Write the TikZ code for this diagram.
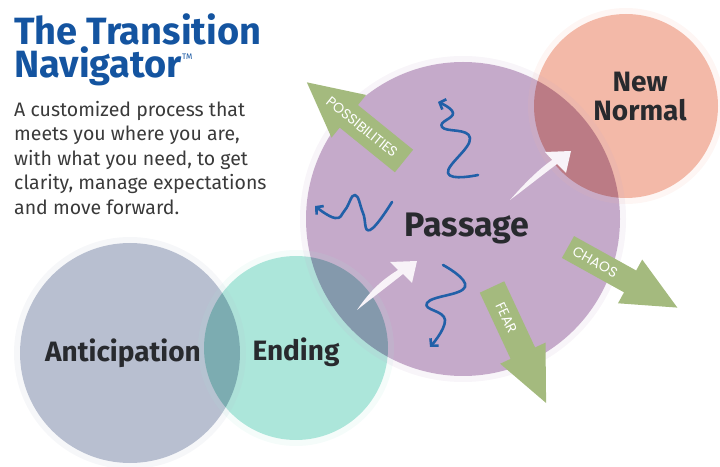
\documentclass[tikz,border=0pt]{standalone}
\usepackage{fontspec}
\setmainfont{Fira Sans}
\newfontfamily\tagfont{Poppins}
\usetikzlibrary{arrows.meta}
\definecolor{tnblue}{RGB}{20,84,160}
\definecolor{tntext}{RGB}{58,58,58}
\definecolor{tnlabel}{RGB}{40,42,46}
\definecolor{tnantic}{RGB}{184,191,208}
\definecolor{tnending}{RGB}{172,230,218}
\definecolor{tnpassage}{RGB}{197,170,202}
\definecolor{tnnormal}{RGB}{243,185,168}
\definecolor{tnsage}{RGB}{164,186,126}
\definecolor{tnsquiggle}{RGB}{33,96,168}
\definecolor{tnwhite}{RGB}{248,243,248}

\begin{document}
\begin{tikzpicture}[x=1pt, y=1pt,
    stage/.style={circle, inner sep=0pt, blend mode=multiply},
    rim/.style={line width=6pt, opacity=0.12},
    stagename/.style={font=\fontsize{28}{28}\selectfont\bfseries, text=tnlabel, align=center, inner sep=0pt},
    squiggle/.style={tnsquiggle, line width=2.6pt, line cap=round, line join=round, -{Straight Barb[length=5pt, width=11pt]}},
    tagtext/.style={font=\tagfont\fontsize{14}{14}\selectfont, text=white, inner sep=0pt},
    sweep/.style={fill=tnwhite}
]
\useasboundingbox (0,0) rectangle (720,466);

% --- the four stages ---
\node[stage, fill=tnantic, minimum size=220pt] (antic) at (130,113) {};
\node[stage, fill=tnending, minimum size=184pt] (ending) at (296,118) {};
\node[stage, fill=tnpassage, minimum size=314pt] (passage) at (463,247) {};
\node[stage, fill=tnnormal, minimum size=184pt] (normal) at (626,360) {};
% soft brushed rims
\draw[rim, tnantic] (antic.center) circle (113);
\draw[rim, tnending] (ending.center) circle (95);
\draw[rim, tnpassage] (passage.center) circle (160);
\draw[rim, tnnormal] (normal.center) circle (95);

% --- heading and blurb ---
\node[anchor=base west, font=\fontsize{38}{38}\selectfont\bfseries, text=tnblue, inner sep=0pt] (title1) at (14,421) {The Transition};
\node[anchor=base west, font=\fontsize{38}{38}\selectfont\bfseries, text=tnblue, inner sep=0pt] (title2) at (14,388) {Navigator\raisebox{18pt}{\fontsize{8}{8}\selectfont\mdseries TM}};
\node[anchor=north west, align=left, font=\fontsize{19.5}{24.5}\selectfont, text=tntext, inner sep=0pt] (blurb) at (14,365)
    {A customized process that\\meets you where you are,\\with what you need, to get\\clarity, manage expectations\\and move forward.};

% --- green arrows out of the passage ---
\foreach \name/\x/\y/\ang/\len/\w/\hw/\hl/\txt/\tpos/\trot in {
    poss/404/305/141/125/29/55/54/POSSIBILITIES/54/180,
    chaos/568/219/-29/125/25/50/54/CHAOS/31/0,
    fear/492/179/-65/128/27/50/55/FEAR/34/0} {
  \begin{scope}[shift={(\x,\y)}, rotate=\ang]
    \fill[tnsage] (0,{-\w/2}) -- ({\len-\hl},{-\w/2}) -- ({\len-\hl},{-\hw/2}) -- (\len,0)
        -- ({\len-\hl},{\hw/2}) -- ({\len-\hl},{\w/2}) -- (0,{\w/2}) -- cycle;
    \node[tagtext, rotate={\ang+\trot}] (\name) at (\tpos,0) {\txt};
  \end{scope}
}

% --- white sweeps between stages ---
\fill[sweep] (357,156) .. controls (372,178) and (385,188) .. (398,196) -- (390,204) -- (417,205)
    -- (412,183) -- (403,192) .. controls (388,180) and (372,168) .. cycle;
\fill[sweep] (510,266) .. controls (525,283) and (538,296) .. (552,306) -- (545,314) -- (571,315)
    -- (566,293) -- (557,302) .. controls (541,290) and (526,278) .. cycle;

% --- blue squiggles ---
\draw[squiggle] plot[smooth, tension=0.8] coordinates {(478,291) (448,293) (470,328) (442,339) (453,353) (438,364)};
\draw[squiggle] plot[smooth, tension=0.8] coordinates {(392,264) (370,236) (363,253) (355,271) (345,256) (335,248) (315,260)};
\draw[squiggle] plot[smooth, tension=0.8] coordinates {(443,201) (465,179) (427,163) (445,146) (430,119)};

% --- stage names ---
\node[stagename, anchor=base] (anticlbl) at (123,104) {Anticipation};
\node[stagename, anchor=base] (endlbl) at (296,105) {Ending};
\node[stagename, anchor=base, font=\fontsize{34}{34}\selectfont\bfseries] (passlbl) at (467,229) {Passage};
\node[stagename, font=\fontsize{28}{29}\selectfont\bfseries] (normlbl) at (640,369) {New\\Normal};

\end{tikzpicture}
\end{document}
